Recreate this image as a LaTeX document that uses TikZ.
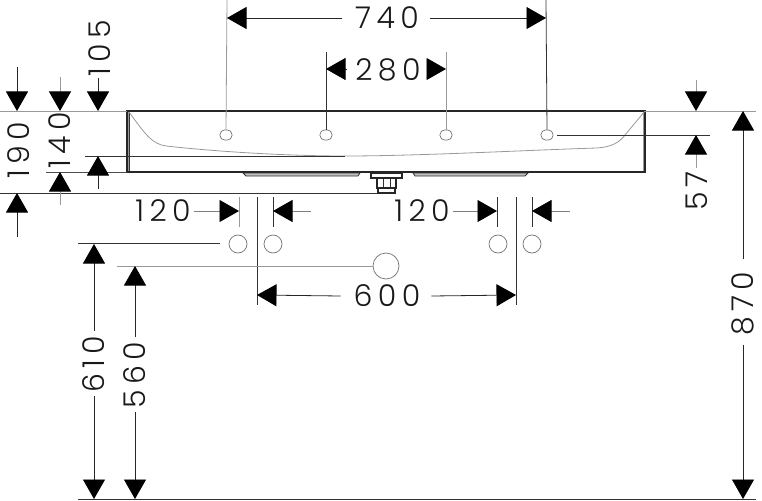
\documentclass[tikz,border=0pt]{standalone}
\usepackage{fontspec}
\setmainfont[LetterSpace=18]{Poppins Light}
\usetikzlibrary{arrows.meta}

\begin{document}
\begin{tikzpicture}[
            x = 1pt, y = -1pt,
            > = {Triangle[length=19.5pt,width=22pt,color=black]}, % arrow head style
            line width = 0.8pt,
            color = black!85
        ]

        \tikzstyle{dim}=[line width = 0.8pt, black!80]
        \tikzstyle{pale}=[line width = 0.8pt, black!40]
        \tikzstyle{rim}=[line width = 1.1pt, black!85]
        \tikzstyle{arr}=[->, line width = 0.8pt, black!85]
        \tikzstyle{lab}=[inner sep = 0pt, outer sep = 0pt, text = black!90,
            font = \fontsize{30}{34}\selectfont]
        \tikzstyle{vlab}=[lab, rotate = 90]
        \tikzstyle{hole}=[draw = black!55, line width = 0.7pt, circle, inner sep = 0pt,
            minimum size = 18pt]
        \tikzstyle{tap}=[draw = black!55, line width = 0.7pt, rectangle, rounded corners = 4.5pt,
            inner sep = 0pt, minimum width = 12pt, minimum height = 10pt]

        \useasboundingbox (0,0) rectangle (762,500);

        % basin
        \coordinate (tl) at (127,111);
        \coordinate (tr) at (645,111);
        \coordinate (bl) at (127,172);
        \coordinate (br) at (645,172);
        \draw[pale, line width = 2pt] (128,112) -- (128,171);
        \draw[pale, line width = 2pt] (644,112) -- (644,171);
        \draw[rim] (tl) -- (tr) -- (br) -- (bl) -- cycle;
        \draw[dim, line width = 0.6pt] (129,112) -- (129,171);
        \draw[rim, line width = 1.6pt] (127,111.5) -- (645,111.5);
        \draw[pale] (129,112) .. controls (145,134) and (152,144) .. (166,146)
            .. controls (220,152) and (290,156) .. (345,156)
            .. controls (420,156) and (530,150) .. (597,148)
            .. controls (612,147) and (620,142) .. (625,135) -- (645,111);
        \draw[dim] (85,156) -- (345,156);
        \draw[dim, black!70] (46,172) -- (127,172);
        \draw[dim] (0,193) -- (377,193);
        \draw[pale] (0,111) -- (127,111);
        \draw[pale] (645,111) -- (756,111);

        % underside strips and waste
        \draw[dim, fill = black!25] (243,173) -- (360,173) -- (358,176) -- (246,176) -- cycle;
        \draw[dim, fill = black!25] (413,173) -- (528,173) -- (525,176) -- (415,176) -- cycle;
        \draw[rim, fill = white] (371,173) rectangle (402,178);
        \draw[rim, fill = white] (377,178) rectangle (396,188);
        \draw[dim] (383,179) -- (383,188) (390,179) -- (390,188);
        \draw[rim, fill = white] (378,188) rectangle (395,193);

        % tap holes
        \foreach \n/\x in {ta/226,tb/326,tc/446,td/547} {
            \node[tap] (\n) at (\x,135) {};
        }

        % wall connections
        \foreach \n/\x in {ha/238,hb/273,hc/498,hd/532} {
            \node[hole] (\n) at (\x,244) {};
        }
        \node[hole, minimum size = 26pt] (he) at (386,266) {};

        % extension lines
        \draw[pale] (227,0) -- (ta.north);
        \draw[dim] (546,0) -- (td.north);
        \draw[dim] (326,52) -- (tb.north);
        \draw[pale] (446,52) -- (tc.north);
        \draw[dim] (td.east) ++(4,0) -- (710,135);
        \draw[pale] (239,197) -- (239,227);
        \draw[dim] (257,197) -- (257,305);
        \draw[dim] (273,197) -- (273,227);
        \draw[dim] (497,197) -- (497,227);
        \draw[dim] (516,197) -- (516,305);
        \draw[dim] (532,197) -- (532,227);
        \draw[dim] (78,243) -- (220,243);
        \draw[pale] (117,266) -- (he.west);
        \draw[dim] (78,499) -- (756,499);

        % horizontal dimensions
        \node[lab] (l740) at (387,18) {740};
        \draw[arr] (l740.west) ++(-13,0) -- (227,18);
        \draw[arr] (l740.east) ++(11,0) -- (546,18);

        \node[lab] (l280) at (388,70) {280};
        \draw[<-, dim, black!85] (326,69) -- (347,69);
        \draw[<-, dim, black!85] (446,69) -- (428,69);

        \node[lab] (l600) at (387,296) {600};
        \draw[arr] (l600.west) ++(-13,0) -- (257,295);
        \draw[arr] (l600.east) ++(11,0) -- (516,295);

        \node[lab] (l120a) at (163,211) {120};
        \draw[arr, black!50] (l120a.east) ++(3,0) -- (239,211);
        \draw[<-, black!50] (273,211) -- (311,211);

        \node[lab] (l120b) at (422,211) {120};
        \draw[arr, black!50] (l120b.east) ++(3,0) -- (497,211);
        \draw[<-, black!50] (532,211) -- (570,211);

        % vertical dimensions
        \node[vlab] (l190) at (19,150) {190};
        \draw[arr] (17,67) -- (17,111);
        \draw[arr] (17,237) -- (17,193);

        \node[vlab] (l140) at (60,140) {140};
        \draw[arr, black!40] (60,77) -- (60,111);
        \draw[arr, black!40] (60,205) -- (60,172);

        \node[vlab] (l105) at (100,48) {105};
        \draw[arr] (98,78) -- (98,111);
        \draw[arr] (98,189) -- (98,156);

        \node[vlab] (l57) at (697,191) {57};
        \draw[arr, black!40] (696,80) -- (696,111);
        \draw[arr, black!40] (696,168) -- (696,135);

        \node[vlab] (l870) at (743,304) {870};
        \draw[arr] (l870.east) ++(0,-13) -- (743,111);
        \draw[arr] (l870.west) ++(0,9) -- (743,499);

        \node[vlab] (l610) at (94,364) {610};
        \draw[arr] (l610.east) ++(0,-5) -- (94,244);
        \draw[arr] (l610.west) ++(0,4) -- (94,499);

        \node[vlab] (l560) at (135,375) {560};
        \draw[arr] (l560.east) ++(0,-5) -- (135,266);
        \draw[arr] (l560.west) ++(0,4) -- (135,499);

\end{tikzpicture}
\end{document}
